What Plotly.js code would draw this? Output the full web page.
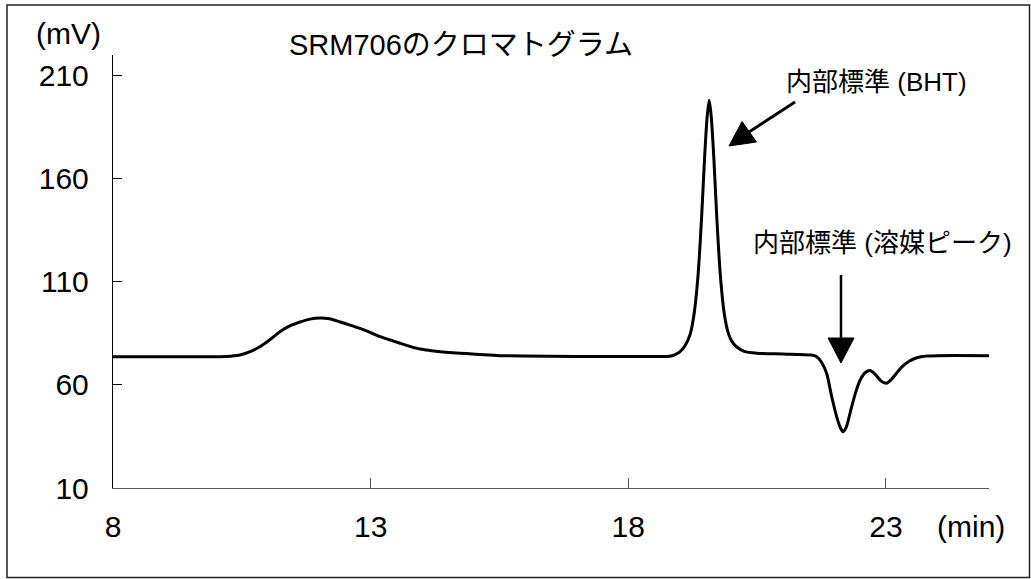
<!DOCTYPE html>
<html>
<head>
<meta charset="utf-8">
<script src="https://cdn.plot.ly/plotly-3.0.1.min.js"></script>
<style>
html,body{margin:0;padding:0;background:#fff;}
#chart{width:1031px;height:579px;}
</style>
</head>
<body>
<div id="chart"></div>
<script>
// Retention time (min)
const timeMin = [
  8.0, 9.0, 9.7, 10.2, 10.46, 10.65, 10.85, 11.05, 11.24, 11.43, 11.63, 11.82, 12.02, 12.2, 12.41, 12.6, 12.79,
  13.0, 13.18, 13.38, 13.57, 13.76, 13.96, 14.15, 14.35, 14.6, 14.86, 15.2, 15.51, 16.5, 17.5, 18.5,
  18.8, 18.9, 19.0, 19.1, 19.2, 19.28, 19.35, 19.42, 19.48, 19.53, 19.57, 19.61, 19.66, 19.72, 19.79,
  19.86, 19.93, 20.0, 20.1, 20.25, 20.5, 21.0, 21.55, 21.65, 21.75, 21.85, 21.95, 22.05, 22.12, 22.17,
  22.23, 22.33, 22.42, 22.5, 22.6, 22.69, 22.78, 22.9, 23.01, 23.1, 23.2, 23.3, 23.45, 23.6, 23.8, 24.0, 25.0
];
// Detector signal (mV)
const signalMV = [
  73.7, 73.7, 73.7, 73.8, 74.5, 76.0, 78.5, 82.0, 85.8, 88.6, 90.5, 91.9, 92.5, 92.1, 90.5, 89.0, 87.4,
  85.4, 83.4, 81.8, 80.2, 78.7, 77.4, 76.7, 76.1, 75.6, 75.2, 74.6, 74.2, 73.9, 73.8, 73.8,
  73.9, 74.6, 76.0, 79.0, 84.5, 95.0, 112.0, 140.0, 170.0, 190.0, 198.0, 190.0, 170.0, 140.0, 112.0,
  95.0, 86.0, 81.5, 78.5, 76.3, 75.4, 75.0, 74.5, 73.8, 71.0, 65.5, 54.0, 44.0, 39.0, 37.3,
  39.5, 49.0, 57.0, 62.4, 66.0, 67.0, 65.5, 62.0, 60.8, 62.5, 65.5, 68.5, 71.5, 73.2, 74.0, 74.2, 74.2
];
const xTicks = [8, 13, 18, 23];
const yTicks = [10, 60, 110, 160, 210];
const titleText = "SRM706のクロマトグラム";
const yUnit = "(mV)";
const xUnit = "(min)";
const labelBHT = "内部標準 (BHT)";
const labelSolvent = "内部標準 (溶媒ピーク)";

const FONT = "'Liberation Sans', Arial, 'Noto Sans CJK JP', sans-serif";
const W = 1031, H = 579;
const M = {l: 113, r: 42, t: 55, b: 91};
const PW = W - M.l - M.r, PH = H - M.t - M.b;
const px = x => (x - M.l) / PW;
const py = y => (H - M.b - y) / PH;

function tri(p1, p2, p3) {
  return `M ${px(p1[0])} ${py(p1[1])} L ${px(p2[0])} ${py(p2[1])} L ${px(p3[0])} ${py(p3[1])} Z`;
}

const shapes = [
  // outer frame
  {type: 'rect', xref: 'paper', yref: 'paper', x0: px(7), x1: px(1029.5), y0: py(577.5), y1: py(5),
   line: {color: '#222', width: 1.5}},
  // arrow to BHT
  {type: 'line', xref: 'paper', yref: 'paper', x0: px(795), y0: py(102), x1: px(749), y1: py(132),
   line: {color: '#000', width: 3}},
  {type: 'path', xref: 'paper', yref: 'paper', path: tri([729, 146], [742, 121.5], [756.5, 142]),
   fillcolor: '#000', line: {color: '#000', width: 1}},
  // arrow to solvent peak
  {type: 'line', xref: 'paper', yref: 'paper', x0: px(841), y0: py(275), x1: px(841), y1: py(340),
   line: {color: '#000', width: 2.5}},
  {type: 'path', xref: 'paper', yref: 'paper', path: tri([841, 363], [828, 338], [854, 338]),
   fillcolor: '#000', line: {color: '#000', width: 1}}
];

const annotations = [
  {text: yUnit, xref: 'paper', yref: 'paper', x: px(68), y: py(34), showarrow: false,
   xanchor: 'center', yanchor: 'middle', font: {family: FONT, size: 30, color: '#000'}},
  {text: titleText, xref: 'paper', yref: 'paper', x: px(461), y: py(45), showarrow: false,
   xanchor: 'center', yanchor: 'middle', font: {family: FONT, size: 29, color: '#000'}},
  {text: xUnit, xref: 'paper', yref: 'paper', x: px(971), y: py(526), showarrow: false,
   xanchor: 'center', yanchor: 'middle', font: {family: FONT, size: 30, color: '#000'}},
  {text: labelBHT, xref: 'paper', yref: 'paper', x: px(876), y: py(82), showarrow: false,
   xanchor: 'center', yanchor: 'middle', font: {family: FONT, size: 26, color: '#000'}},
  {text: labelSolvent, xref: 'paper', yref: 'paper', x: px(882), y: py(243), showarrow: false,
   xanchor: 'center', yanchor: 'middle', font: {family: FONT, size: 26, color: '#000'}}
];

const trace = {
  x: timeMin, y: signalMV, type: 'scatter', mode: 'lines',
  line: {color: '#000', width: 3, shape: 'spline', smoothing: 0.7},
  hoverinfo: 'x+y'
};

const layout = {
  width: W, height: H,
  margin: M,
  paper_bgcolor: '#fff', plot_bgcolor: '#fff',
  showlegend: false,
  font: {family: FONT, size: 30, color: '#000'},
  xaxis: {
    range: [8, 25], tickvals: xTicks, ticktext: xTicks.map(String),
    ticks: 'inside', ticklen: 10, tickwidth: 1, tickcolor: '#555',
    showline: true, linecolor: '#555', linewidth: 1.2,
    showgrid: false, zeroline: false, ticklabelstandoff: 12,
    tickfont: {family: FONT, size: 30, color: '#000'}, fixedrange: true
  },
  yaxis: {
    range: [10, 220], tickvals: yTicks, ticktext: yTicks.map(String),
    ticks: 'inside', ticklen: 9, tickwidth: 1, tickcolor: '#000',
    showline: true, linecolor: '#000', linewidth: 1.2,
    showgrid: false, zeroline: false, ticklabelstandoff: 17,
    tickfont: {family: FONT, size: 30, color: '#000'}, fixedrange: true
  },
  shapes: shapes,
  annotations: annotations
};

Plotly.newPlot('chart', [trace], layout, {displayModeBar: false, staticPlot: true});
</script>
</body>
</html>
